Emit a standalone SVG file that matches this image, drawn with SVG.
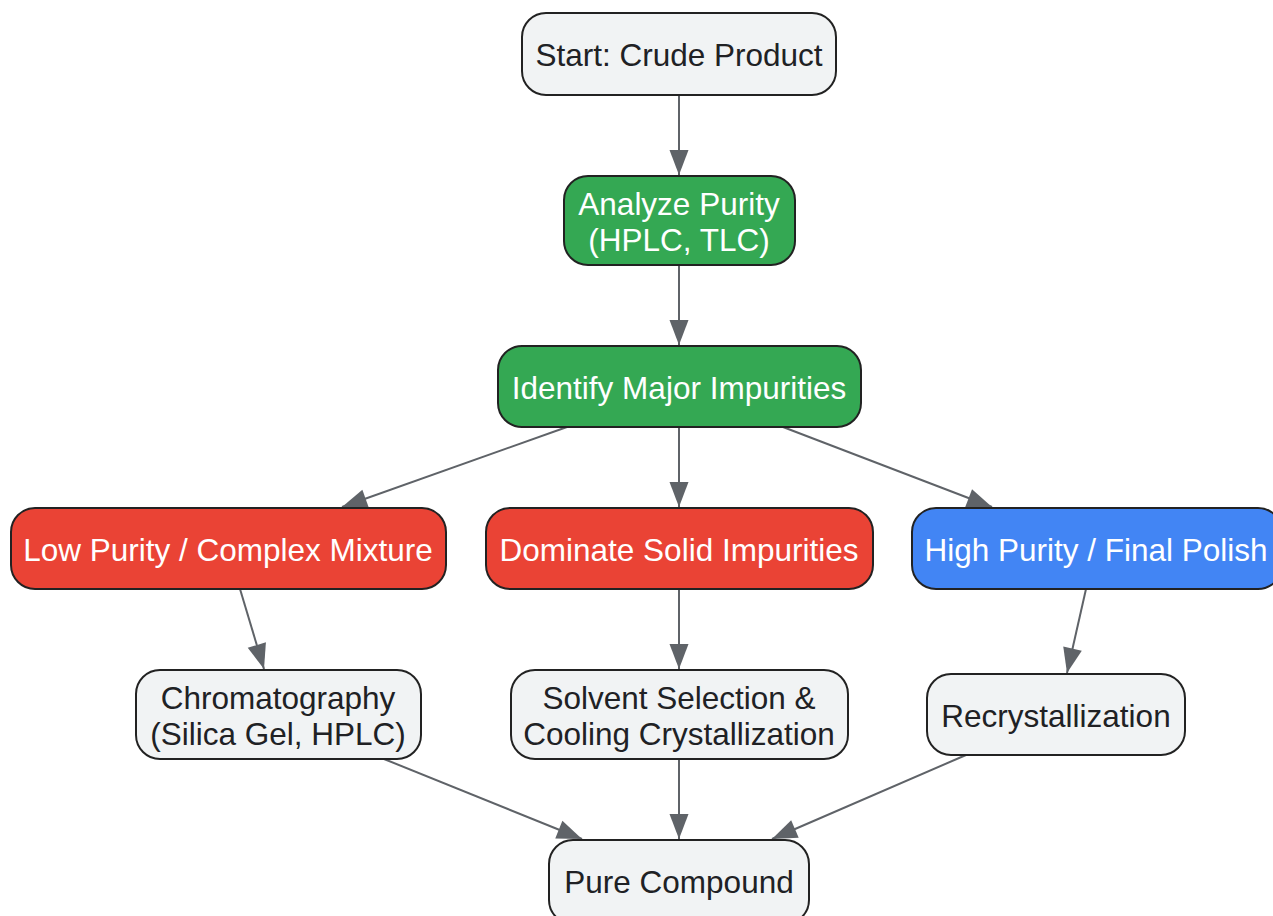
<svg xmlns="http://www.w3.org/2000/svg" width="1273" height="916" viewBox="0 0 1273 916">
<style>
.n rect{stroke:#222;stroke-width:2}
.g{fill:#f1f3f4}
.gr{fill:#34a853}
.rd{fill:#ea4335}
.bl{fill:#4285f4}
text{font-family:"Liberation Sans",Arial,sans-serif;font-size:31.5px;text-anchor:middle;dominant-baseline:central}
.d{fill:#202124}
.w{fill:#ffffff}
#edges line{stroke:#5f6368;stroke-width:2;fill:none}
</style>
<defs>
<marker id="ah" markerUnits="userSpaceOnUse" markerWidth="28" markerHeight="24" viewBox="0 0 28 24" refX="26" refY="12" orient="auto">
<path d="M1,2.5 L26,12 L1,21.5 Z" fill="#5f6368"/>
</marker>
</defs>
<rect width="1273" height="916" fill="#ffffff"/>
<g id="edges">
<line x1="679" y1="95" x2="679" y2="175" marker-end="url(#ah)"/>
<line x1="679" y1="265" x2="679" y2="345" marker-end="url(#ah)"/>
<line x1="567" y1="427" x2="342" y2="507" marker-end="url(#ah)"/>
<line x1="679" y1="427" x2="679" y2="507" marker-end="url(#ah)"/>
<line x1="783" y1="427" x2="992" y2="507" marker-end="url(#ah)"/>
<line x1="240" y1="589" x2="264" y2="669" marker-end="url(#ah)"/>
<line x1="679" y1="589" x2="679" y2="669" marker-end="url(#ah)"/>
<line x1="1086" y1="589" x2="1067" y2="673" marker-end="url(#ah)"/>
<line x1="384" y1="759" x2="582" y2="839" marker-end="url(#ah)"/>
<line x1="679" y1="759" x2="679" y2="839" marker-end="url(#ah)"/>
<line x1="966" y1="755" x2="772" y2="839" marker-end="url(#ah)"/>
</g>
<g id="start" class="n"><rect class="g" x="522" y="13" width="314" height="82" rx="24"/><text class="d" x="679" y="55">Start: Crude Product</text></g>
<g id="analyze" class="n"><rect class="gr" x="564" y="176" width="231" height="89" rx="24"/><text class="w" x="679" y="204">Analyze Purity</text><text class="w" x="679" y="240">(HPLC, TLC)</text></g>
<g id="identify" class="n"><rect class="gr" x="498" y="346" width="363" height="81" rx="24"/><text class="w" x="679" y="388">Identify Major Impurities</text></g>
<g id="low" class="n"><rect class="rd" x="11" y="508" width="435" height="81" rx="24"/><text class="w" x="228" y="550">Low Purity / Complex Mixture</text></g>
<g id="dominate" class="n"><rect class="rd" x="486" y="508" width="387" height="81" rx="24"/><text class="w" x="679" y="550">Dominate Solid Impurities</text></g>
<g id="high" class="n"><rect class="bl" x="912" y="508" width="370" height="81" rx="24"/><text class="w" x="1096" y="550">High Purity / Final Polish</text></g>
<g id="chrom" class="n"><rect class="g" x="136" y="670" width="285" height="89" rx="24"/><text class="d" x="278" y="698">Chromatography</text><text class="d" x="278" y="734">(Silica Gel, HPLC)</text></g>
<g id="solvent" class="n"><rect class="g" x="511" y="670" width="337" height="89" rx="24"/><text class="d" x="679" y="698">Solvent Selection &amp;</text><text class="d" x="679" y="734">Cooling Crystallization</text></g>
<g id="recryst" class="n"><rect class="g" x="927" y="674" width="258" height="81" rx="24"/><text class="d" x="1056" y="716">Recrystallization</text></g>
<g id="pure" class="n"><rect class="g" x="549" y="840" width="260" height="84" rx="24"/><text class="d" x="679" y="882">Pure Compound</text></g>
</svg>
